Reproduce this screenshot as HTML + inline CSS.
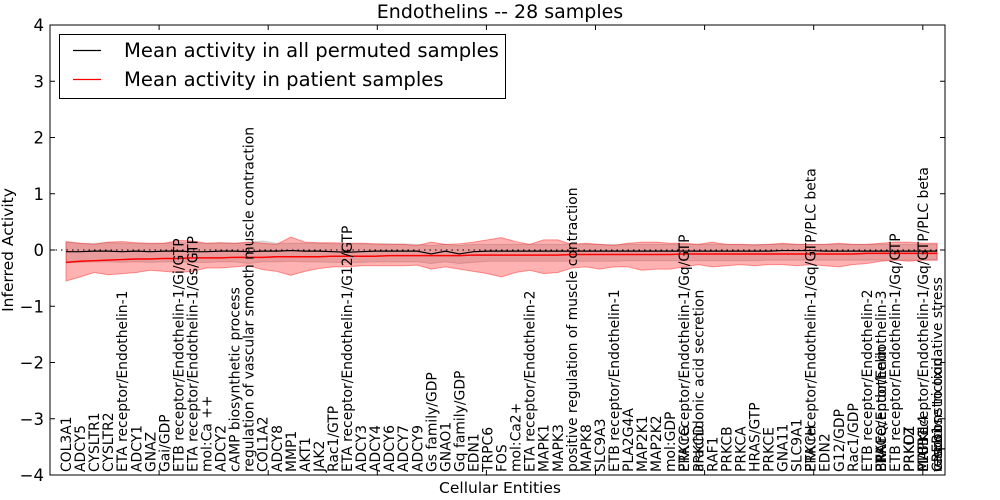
<!DOCTYPE html>
<html><head><meta charset="utf-8"><style>
body{margin:0;background:#fff;}
svg{display:block;font-family:"DejaVu Sans","Liberation Sans",sans-serif;}
</style></head><body>
<svg id="chart" width="1000" height="500" viewBox="0 0 1000 500">
<rect width="1000" height="500" fill="#fff"/>
<g id="plot"></g>
</svg>
<script>
const labels = ["COL3A1","ADCY5","CYSLTR1","CYSLTR2","ETA receptor/Endothelin-1","ADCY1","GNAZ","Gai/GDP","ETB receptor/Endothelin-1/Gi/GTP","ETA receptor/Endothelin-1/Gs/GTP",
"mol:Ca ++","ADCY2","cAMP biosynthetic process","regulation of vascular smooth muscle contraction","COL1A2","ADCY8","MMP1","AKT1","JAK2","Rac1/GTP",
"ETA receptor/Endothelin-1/G12/GTP","ADCY3","ADCY4","ADCY6","ADCY7","ADCY9","Gs family/GDP","GNAO1","Gq family/GDP","EDN1",
"TRPC6","FOS","mol:Ca2+","ETA receptor/Endothelin-2","MAPK1","MAPK3","positive regulation of muscle contraction","MAPK8","SLC9A3","ETB receptor/Endothelin-1",
"PLA2G4A","MAP2K1","MAP2K2","mol:GDP","PRKCG|ETA receptor/Endothelin-1/Gq/GTP","PRKCD|arachidonic acid secretion","RAF1","PRKCB","PRKCA","HRAS/GTP",
"PRKCE","GNA11","SLC9A1","PRKCH|ETA receptor/Endothelin-1/Gq/GTP/PLC beta","EDN2","G12/GDP","Rac1/GDP","ETB receptor/Endothelin-2","ETA receptor/Endothelin-3|BRAF|PRKCQ/Endothelin","ETB receptor/Endothelin-1/Gq/GTP",
"PRKCZ|PRKD1","ETB receptor/Endothelin-1/Gq/GTP/PLC beta|MAPK14|PLCB1","response to oxidative stress|vasoconstriction|CREB1"];
const redMean = [-0.22,-0.20,-0.19,-0.18,-0.17,-0.16,-0.16,-0.15,-0.15,-0.14,
-0.14,-0.14,-0.13,-0.13,-0.13,-0.12,-0.12,-0.12,-0.12,-0.11,
-0.11,-0.11,-0.11,-0.10,-0.10,-0.10,-0.10,-0.10,-0.10,-0.09,
-0.09,-0.09,-0.09,-0.09,-0.09,-0.09,-0.08,-0.08,-0.08,-0.08,
-0.08,-0.08,-0.08,-0.08,-0.07,-0.07,-0.07,-0.07,-0.07,-0.07,
-0.07,-0.07,-0.07,-0.07,-0.07,-0.07,-0.07,-0.06,-0.06,-0.06,
-0.06,-0.06,-0.06];
const redUpper = [0.15,0.12,0.10,0.14,0.15,0.13,0.12,0.12,0.17,0.16,
0.12,0.13,0.12,0.14,0.12,0.10,0.23,0.14,0.13,0.13,
0.12,0.12,0.11,0.10,0.10,0.08,0.14,0.10,0.11,0.14,
0.18,0.22,0.15,0.10,0.18,0.18,0.10,0.12,0.10,0.08,
0.12,0.14,0.14,0.12,0.12,0.10,0.14,0.10,0.10,0.09,
0.10,0.12,0.10,0.10,0.10,0.12,0.10,0.10,0.12,0.14,
0.14,0.12,0.12];
const redLower = [-0.55,-0.48,-0.40,-0.44,-0.42,-0.40,-0.36,-0.38,-0.40,-0.38,
-0.32,-0.32,-0.30,-0.28,-0.35,-0.38,-0.45,-0.38,-0.33,-0.30,
-0.30,-0.28,-0.28,-0.28,-0.28,-0.27,-0.34,-0.30,-0.34,-0.38,
-0.42,-0.48,-0.40,-0.36,-0.42,-0.40,-0.32,-0.30,-0.34,-0.30,
-0.30,-0.36,-0.34,-0.34,-0.30,-0.26,-0.30,-0.28,-0.26,-0.28,
-0.26,-0.26,-0.28,-0.26,-0.28,-0.30,-0.26,-0.24,-0.20,-0.18,
-0.20,-0.18,-0.18];
const permMean = [-0.03,-0.03,-0.02,-0.02,-0.03,-0.02,-0.03,-0.02,-0.02,-0.03,
-0.03,-0.02,-0.02,-0.03,-0.02,-0.02,-0.01,-0.02,-0.02,-0.03,
-0.04,-0.03,-0.02,-0.02,-0.02,-0.02,-0.07,-0.02,-0.07,-0.03,
-0.02,-0.02,-0.02,-0.02,-0.02,-0.02,-0.02,-0.02,-0.02,-0.02,
-0.02,-0.02,-0.02,-0.02,-0.02,-0.02,-0.02,-0.02,-0.02,-0.02,
-0.02,-0.01,-0.01,-0.01,-0.02,-0.02,-0.02,-0.02,-0.02,-0.02,
-0.02,-0.02,-0.02];
const permUpper = [0.14,0.12,0.12,0.13,0.12,0.12,0.11,0.12,0.13,0.12,
0.12,0.12,0.12,0.13,0.16,0.12,0.12,0.12,0.12,0.11,
0.11,0.11,0.11,0.11,0.11,0.10,0.08,0.10,0.08,0.10,
0.10,0.10,0.10,0.10,0.10,0.10,0.10,0.10,0.10,0.10,
0.10,0.10,0.10,0.10,0.10,0.10,0.10,0.10,0.10,0.10,
0.10,0.10,0.10,0.10,0.10,0.10,0.10,0.10,0.10,0.10,
0.10,0.10,0.10];
const permLower = [-0.22,-0.22,-0.21,-0.21,-0.22,-0.21,-0.22,-0.21,-0.21,-0.22,
-0.22,-0.21,-0.21,-0.24,-0.21,-0.21,-0.20,-0.21,-0.21,-0.22,
-0.22,-0.22,-0.21,-0.21,-0.21,-0.21,-0.24,-0.21,-0.24,-0.22,
-0.20,-0.20,-0.20,-0.20,-0.20,-0.20,-0.20,-0.20,-0.20,-0.20,
-0.19,-0.19,-0.19,-0.19,-0.19,-0.19,-0.19,-0.19,-0.19,-0.19,
-0.18,-0.18,-0.18,-0.18,-0.18,-0.18,-0.18,-0.18,-0.18,-0.18,
-0.18,-0.18,-0.18];
const yTicks = [-4,-3,-2,-1,0,1,2,3,4];

const NS="http://www.w3.org/2000/svg";
const L=50,R=945,T=25,B=475;
const yS=v=>250-(v)*56.25;
const xS=i=>66+i*14.05;
const g=document.getElementById('plot');
function mk(tag,attrs,parent){const e=document.createElementNS(NS,tag);for(const k in attrs)e.setAttribute(k,attrs[k]);(parent||g).appendChild(e);return e;}
function band(up,lo,fill,op,name){
  let d='M'+up.map((v,i)=>xS(i)+','+yS(v)).join('L');
  for(let i=lo.length-1;i>=0;i--)d+='L'+xS(i)+','+yS(lo[i]);
  const p=mk('path',{d:d+'Z',fill:fill,'fill-opacity':op,stroke:fill,'stroke-opacity':op*1.3,'stroke-width':1});
  
  
}
function line(arr,color,w,name){
  const p=mk('path',{d:'M'+arr.map((v,i)=>xS(i)+','+yS(v)).join('L'),fill:'none',stroke:color,'stroke-width':w});
  
  
}
band(permUpper,permLower,'#999999',0.3,'permuted-band');
band(redUpper,redLower,'#ff0000',0.3,'patient-band');
const z=mk('line',{x1:L,x2:R,y1:yS(0),y2:yS(0),stroke:'#000','stroke-width':1,'stroke-dasharray':'1.5,4'});


line(permMean,'#000',1.2,'permuted-mean-line');
line(redMean,'#ff0000',1.5,'patient-mean-line');

labels.forEach((lab,i)=>{
  lab.split('|').forEach(s=>{
    const t=mk('text',{transform:`translate(${xS(i)+5},472) rotate(-90)`,'font-size':13.9,fill:'#000'});
    t.textContent=s;
    
    
  });
});

const fr=mk('rect',{x:L,y:T,width:R-L,height:B-T,fill:'none',stroke:'#000','stroke-width':1});


yTicks.forEach(v=>{
  const y=yS(v);
  mk('line',{x1:L,x2:L+5,y1:y,y2:y,stroke:'#000'});
  mk('line',{x1:R-5,x2:R,y1:y,y2:y,stroke:'#000'});
  const t=mk('text',{x:L-6,y:y+6,'text-anchor':'end','font-size':16.5});
  t.textContent=v<0?'\u2212'+Math.abs(v):String(v);
  
  
});
for(let k=1;k<=8;k++){const x=L+109.1*k;
  mk('line',{x1:x,x2:x,y1:T,y2:T+5,stroke:'#000'});
  mk('line',{x1:x,x2:x,y1:B-5,y2:B,stroke:'#000'});}
</script>
<svg style="position:absolute;left:0;top:0" width="1000" height="500">
<text x="500" y="18" text-anchor="middle" font-size="19" font-family="DejaVu Sans, Liberation Sans, sans-serif">Endothelins -- 28 samples</text>
<text x="500" y="493" text-anchor="middle" font-size="15.5" font-family="DejaVu Sans, Liberation Sans, sans-serif">Cellular Entities</text>
<text transform="translate(13,250) rotate(-90)" text-anchor="middle" font-size="15.5" font-family="DejaVu Sans, Liberation Sans, sans-serif">Inferred Activity</text>
<g font-family="DejaVu Sans, Liberation Sans, sans-serif">
<rect x="59.5" y="34.5" width="446" height="64" fill="#fff" stroke="#000"/>
<line x1="73" x2="101" y1="50.5" y2="50.5" stroke="#000" stroke-width="1.3"/>
<text x="124" y="57" font-size="19.6">Mean activity in all permuted samples</text>
<line x1="73" x2="101" y1="79.5" y2="79.5" stroke="#f00" stroke-width="1.3"/>
<text x="124" y="86" font-size="19.6">Mean activity in patient samples</text>
</g>
</svg>
</body></html>
